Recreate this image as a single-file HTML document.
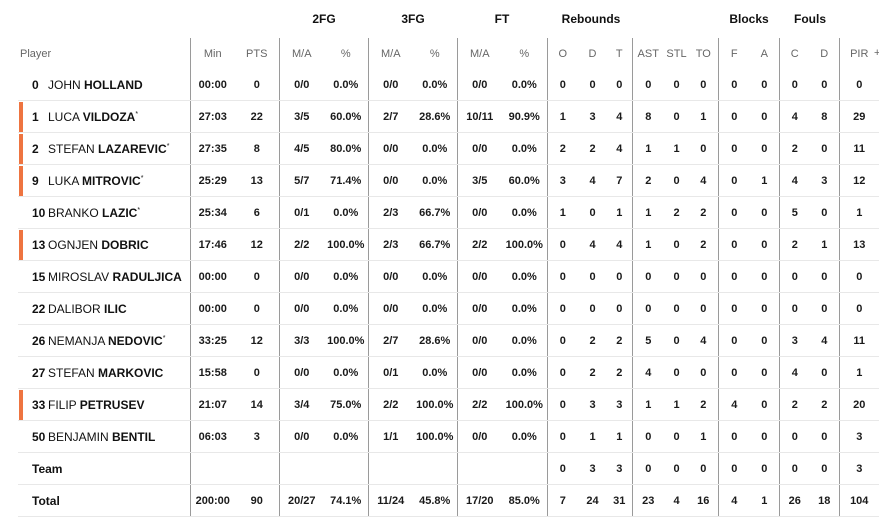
<!DOCTYPE html>
<html><head><meta charset="utf-8"><style>
body{margin:0;width:879px;height:524px;background:#fff;overflow:hidden;font-family:"Liberation Sans",sans-serif;}
.g{position:absolute;top:12px;font-weight:bold;font-size:12px;color:#111;transform:translateX(-50%);}
table{position:absolute;left:18px;top:38px;border-collapse:collapse;table-layout:fixed;width:861px;}
td{height:31px;padding:0;text-align:center;font-size:11px;font-weight:bold;color:#1a1a1a;border-bottom:1px solid #e8e8e8;white-space:nowrap;position:relative;overflow:visible;}
tr.h td{font-weight:normal;color:#666;font-size:11px;border-bottom:none;}
td.p{text-align:left;font-weight:normal;font-size:12px;color:#111;}
td.p b{font-weight:bold}
td.p .n{display:inline-block;width:16px;margin-left:14px;font-weight:bold}
.s{position:absolute;left:1px;top:1px;width:4px;height:30px;background:#ee7440;}
.v{border-left:1px solid #9a9a9a;}
tr.h td.p{padding-left:2px;font-size:11px;color:#666}
</style></head><body>
<div class="g" style="left:324px">2FG</div>
<div class="g" style="left:413px">3FG</div>
<div class="g" style="left:502px">FT</div>
<div class="g" style="left:591px">Rebounds</div>
<div class="g" style="left:749px">Blocks</div>
<div class="g" style="left:810px">Fouls</div>
<table>
<colgroup><col style="width:172px"><col style="width:45px"><col style="width:44px"><col style="width:45px"><col style="width:44px"><col style="width:45px"><col style="width:44px"><col style="width:45px"><col style="width:45px"><col style="width:31px"><col style="width:29px"><col style="width:25px"><col style="width:32px"><col style="width:25px"><col style="width:29px"><col style="width:32px"><col style="width:29px"><col style="width:31px"><col style="width:29px"><col style="width:40px"></colgroup>
<tr class="h"><td class="p">Player</td><td class="v">Min</td><td>PTS</td><td class="v">M/A</td><td>%</td><td class="v">M/A</td><td>%</td><td class="v">M/A</td><td>%</td><td class="v">O</td><td>D</td><td>T</td><td class="v">AST</td><td>STL</td><td>TO</td><td class="v">F</td><td>A</td><td class="v">C</td><td>D</td><td class="v">PIR</td></tr>
<tr><td class="p"><span class="n">0</span>JOHN <b>HOLLAND</b></td><td class="v">00:00</td><td>0</td><td class="v">0/0</td><td>0.0%</td><td class="v">0/0</td><td>0.0%</td><td class="v">0/0</td><td>0.0%</td><td class="v">0</td><td>0</td><td>0</td><td class="v">0</td><td>0</td><td>0</td><td class="v">0</td><td>0</td><td class="v">0</td><td>0</td><td class="v">0</td></tr>
<tr><td class="p"><div class="s"></div><span class="n">1</span>LUCA <b>VILDOZA</b><sup style="font-size:7px">*</sup></td><td class="v">27:03</td><td>22</td><td class="v">3/5</td><td>60.0%</td><td class="v">2/7</td><td>28.6%</td><td class="v">10/11</td><td>90.9%</td><td class="v">1</td><td>3</td><td>4</td><td class="v">8</td><td>0</td><td>1</td><td class="v">0</td><td>0</td><td class="v">4</td><td>8</td><td class="v">29</td></tr>
<tr><td class="p"><div class="s"></div><span class="n">2</span>STEFAN <b>LAZAREVIC</b><sup style="font-size:7px">*</sup></td><td class="v">27:35</td><td>8</td><td class="v">4/5</td><td>80.0%</td><td class="v">0/0</td><td>0.0%</td><td class="v">0/0</td><td>0.0%</td><td class="v">2</td><td>2</td><td>4</td><td class="v">1</td><td>1</td><td>0</td><td class="v">0</td><td>0</td><td class="v">2</td><td>0</td><td class="v">11</td></tr>
<tr><td class="p"><div class="s"></div><span class="n">9</span>LUKA <b>MITROVIC</b><sup style="font-size:7px">*</sup></td><td class="v">25:29</td><td>13</td><td class="v">5/7</td><td>71.4%</td><td class="v">0/0</td><td>0.0%</td><td class="v">3/5</td><td>60.0%</td><td class="v">3</td><td>4</td><td>7</td><td class="v">2</td><td>0</td><td>4</td><td class="v">0</td><td>1</td><td class="v">4</td><td>3</td><td class="v">12</td></tr>
<tr><td class="p"><span class="n">10</span>BRANKO <b>LAZIC</b><sup style="font-size:7px">*</sup></td><td class="v">25:34</td><td>6</td><td class="v">0/1</td><td>0.0%</td><td class="v">2/3</td><td>66.7%</td><td class="v">0/0</td><td>0.0%</td><td class="v">1</td><td>0</td><td>1</td><td class="v">1</td><td>2</td><td>2</td><td class="v">0</td><td>0</td><td class="v">5</td><td>0</td><td class="v">1</td></tr>
<tr><td class="p"><div class="s"></div><span class="n">13</span>OGNJEN <b>DOBRIC</b></td><td class="v">17:46</td><td>12</td><td class="v">2/2</td><td>100.0%</td><td class="v">2/3</td><td>66.7%</td><td class="v">2/2</td><td>100.0%</td><td class="v">0</td><td>4</td><td>4</td><td class="v">1</td><td>0</td><td>2</td><td class="v">0</td><td>0</td><td class="v">2</td><td>1</td><td class="v">13</td></tr>
<tr><td class="p"><span class="n">15</span>MIROSLAV <b>RADULJICA</b></td><td class="v">00:00</td><td>0</td><td class="v">0/0</td><td>0.0%</td><td class="v">0/0</td><td>0.0%</td><td class="v">0/0</td><td>0.0%</td><td class="v">0</td><td>0</td><td>0</td><td class="v">0</td><td>0</td><td>0</td><td class="v">0</td><td>0</td><td class="v">0</td><td>0</td><td class="v">0</td></tr>
<tr><td class="p"><span class="n">22</span>DALIBOR <b>ILIC</b></td><td class="v">00:00</td><td>0</td><td class="v">0/0</td><td>0.0%</td><td class="v">0/0</td><td>0.0%</td><td class="v">0/0</td><td>0.0%</td><td class="v">0</td><td>0</td><td>0</td><td class="v">0</td><td>0</td><td>0</td><td class="v">0</td><td>0</td><td class="v">0</td><td>0</td><td class="v">0</td></tr>
<tr><td class="p"><span class="n">26</span>NEMANJA <b>NEDOVIC</b><sup style="font-size:7px">*</sup></td><td class="v">33:25</td><td>12</td><td class="v">3/3</td><td>100.0%</td><td class="v">2/7</td><td>28.6%</td><td class="v">0/0</td><td>0.0%</td><td class="v">0</td><td>2</td><td>2</td><td class="v">5</td><td>0</td><td>4</td><td class="v">0</td><td>0</td><td class="v">3</td><td>4</td><td class="v">11</td></tr>
<tr><td class="p"><span class="n">27</span>STEFAN <b>MARKOVIC</b></td><td class="v">15:58</td><td>0</td><td class="v">0/0</td><td>0.0%</td><td class="v">0/1</td><td>0.0%</td><td class="v">0/0</td><td>0.0%</td><td class="v">0</td><td>2</td><td>2</td><td class="v">4</td><td>0</td><td>0</td><td class="v">0</td><td>0</td><td class="v">4</td><td>0</td><td class="v">1</td></tr>
<tr><td class="p"><div class="s"></div><span class="n">33</span>FILIP <b>PETRUSEV</b></td><td class="v">21:07</td><td>14</td><td class="v">3/4</td><td>75.0%</td><td class="v">2/2</td><td>100.0%</td><td class="v">2/2</td><td>100.0%</td><td class="v">0</td><td>3</td><td>3</td><td class="v">1</td><td>1</td><td>2</td><td class="v">4</td><td>0</td><td class="v">2</td><td>2</td><td class="v">20</td></tr>
<tr><td class="p"><span class="n">50</span>BENJAMIN <b>BENTIL</b></td><td class="v">06:03</td><td>3</td><td class="v">0/0</td><td>0.0%</td><td class="v">1/1</td><td>100.0%</td><td class="v">0/0</td><td>0.0%</td><td class="v">0</td><td>1</td><td>1</td><td class="v">0</td><td>0</td><td>1</td><td class="v">0</td><td>0</td><td class="v">0</td><td>0</td><td class="v">3</td></tr>
<tr><td class="p" style="padding-left:14px"><b>Team</b></td><td class="v"></td><td></td><td class="v"></td><td></td><td class="v"></td><td></td><td class="v"></td><td></td><td class="v">0</td><td>3</td><td>3</td><td class="v">0</td><td>0</td><td>0</td><td class="v">0</td><td>0</td><td class="v">0</td><td>0</td><td class="v">3</td></tr>
<tr><td class="p" style="padding-left:14px"><b>Total</b></td><td class="v">200:00</td><td>90</td><td class="v">20/27</td><td>74.1%</td><td class="v">11/24</td><td>45.8%</td><td class="v">17/20</td><td>85.0%</td><td class="v">7</td><td>24</td><td>31</td><td class="v">23</td><td>4</td><td>16</td><td class="v">4</td><td>1</td><td class="v">26</td><td>18</td><td class="v">104</td></tr>
</table>
<div style="position:absolute;left:874px;top:47px;font-size:11px;color:#666">+</div>
</body></html>
